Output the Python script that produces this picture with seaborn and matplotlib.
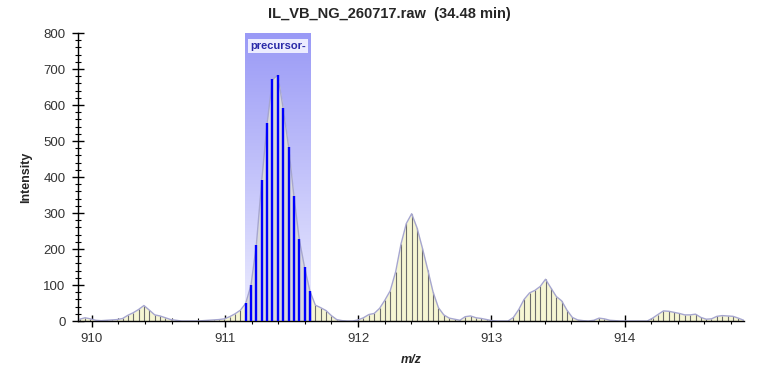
import matplotlib
matplotlib.use("Agg")
import matplotlib.pyplot as plt
import numpy as np
import pandas as pd
import seaborn as sns
from matplotlib.colors import LinearSegmentedColormap
from matplotlib.patches import Rectangle
from matplotlib.ticker import MultipleLocator


# Profile spectrum (m/z, intensity)
mz = [
    909.910, 909.950, 909.990, 910.031, 910.071, 910.111, 910.151, 910.191,
    910.232, 910.272, 910.312, 910.352, 910.392, 910.433, 910.473, 910.513,
    910.553, 910.593, 910.634, 910.674, 910.714, 910.754, 910.794, 910.835,
    910.875, 910.915, 910.955, 910.995, 911.036, 911.076, 911.116, 911.156,
    911.196, 911.236, 911.277, 911.317, 911.357, 911.397, 911.437, 911.478,
    911.518, 911.558, 911.598, 911.638, 911.679, 911.719, 911.759, 911.799,
    911.839, 911.880, 911.920, 911.960, 912.000, 912.040, 912.081, 912.121,
    912.161, 912.201, 912.241, 912.282, 912.322, 912.362, 912.402, 912.442,
    912.483, 912.523, 912.563, 912.603, 912.643, 912.684, 912.724, 912.764,
    912.804, 912.844, 912.885, 912.925, 912.965, 913.005, 913.045, 913.086,
    913.126, 913.166, 913.206, 913.246, 913.287, 913.327, 913.367, 913.407,
    913.447, 913.488, 913.528, 913.568, 913.608, 913.648, 913.689, 913.729,
    913.769, 913.809, 913.849, 913.890, 913.930, 913.970, 914.010, 914.050,
    914.091, 914.131, 914.171, 914.211, 914.251, 914.292, 914.332, 914.372,
    914.412, 914.452, 914.493, 914.533, 914.573, 914.613, 914.653, 914.694,
    914.734, 914.774, 914.814, 914.854, 914.895,
]
intensity = [
    5, 9, 6, 2, 1, 2, 3, 4,
    7, 16, 23, 32, 43, 30, 17, 14,
    9, 4, 2, 0, 0, 0, 0, 1,
    2, 3, 4, 6, 12, 20, 30, 49,
    100, 211, 392, 549, 671, 683, 591, 484,
    347, 227, 149, 83, 44, 37, 29, 15,
    4, 1, 0, 0, 3, 9, 18, 21,
    35, 58, 84, 137, 214, 271, 298, 259,
    202, 142, 80, 37, 17, 8, 5, 2,
    12, 14, 9, 7, 4, 1, 0, 0,
    0, 10, 32, 60, 78, 85, 96, 116,
    92, 68, 56, 30, 10, 3, 1, 0,
    2, 8, 6, 2, 1, 0, 0, 0,
    0, 0, 0, 8, 18, 28, 27, 24,
    21, 17, 17, 19, 10, 5, 6, 13,
    15, 14, 13, 8, 2,
]

precursor_lo, precursor_hi = 911.151, 911.646
title = "IL_VB_NG_260717.raw  (34.48 min)"

sns.set_style("ticks")
plt.rcParams["font.family"] = ["Liberation Sans", "DejaVu Sans"]

df = pd.DataFrame({"mz": mz, "intensity": intensity})
inside = df["mz"].between(precursor_lo, precursor_hi)

fig = plt.figure(figsize=(7.59, 3.68), dpi=100)
ax = fig.add_axes([78 / 759, 1 - 321 / 368, 666.4 / 759, 288 / 368])

# Precursor isolation window, drawn as a vertical gradient
band_cmap = LinearSegmentedColormap.from_list("band", ["#eeeeff", "#9a9af6"])
gradient = np.linspace(0, 1, 256).reshape(-1, 1)
ax.imshow(gradient, extent=[precursor_lo, precursor_hi, 0, 800], origin="lower",
          aspect="auto", cmap=band_cmap, zorder=0)

# Area under the profile: yellow outside the window, grey inside it
ax.fill_between(df["mz"], df["intensity"], color="#f6f6d3", lw=0, zorder=1)
grey_fill = ax.fill_between(df["mz"], df["intensity"], color="#d9d9dc", lw=0, zorder=1.5)
grey_fill.set_clip_path(Rectangle((precursor_lo, 0), precursor_hi - precursor_lo, 800,
                                  transform=ax.transData))

# Profile sticks
ax.vlines(df.loc[~inside, "mz"], 0, df.loc[~inside, "intensity"],
          color="#6c6c6c", lw=0.8, zorder=2)
sns.lineplot(data=df, x="mz", y="intensity", color="#a6a6cf", lw=1.0, ax=ax, zorder=2.5)
ax.vlines(df.loc[inside, "mz"], 0, df.loc[inside, "intensity"],
          color="#0000ff", lw=1.7, zorder=3)

ax.text((precursor_lo + precursor_hi) / 2, 764, "precursor-", ha="center", va="center",
        fontsize=8, fontweight="bold", color="#2a2aa8", zorder=4,
        bbox=dict(boxstyle="square,pad=0.15", fc="#ececff", ec="none"))

# Axes, ticks and labels
ax.set_xlim(909.897, 914.9)
ax.set_ylim(0, 800)
ax.xaxis.set_major_locator(MultipleLocator(1))
ax.xaxis.set_minor_locator(MultipleLocator(0.2))
ax.yaxis.set_major_locator(MultipleLocator(100))
ax.yaxis.set_minor_locator(MultipleLocator(20))
ax.tick_params(which="major", direction="inout", length=8, width=1,
               labelsize=9.5, labelcolor="#333333", color="black", pad=5)
ax.tick_params(which="minor", direction="inout", length=4, width=0.8, color="black")
sns.despine(ax=ax)
for side in ["left", "bottom"]:
    ax.spines[side].set_color("black")
    ax.spines[side].set_linewidth(1)

ax.set_ylabel("Intensity", fontsize=9, fontweight="bold")
ax.set_xlabel("m/z", fontsize=9, fontweight="bold", style="italic")
ax.yaxis.set_label_coords((32 - 78) / 666.4, 0.5)
ax.xaxis.set_label_coords(0.5, (321 - 354) / 288)

fig.text(389 / 759, 1 - 14 / 368, title, ha="center", va="center",
         fontsize=10.5, fontweight="bold")

fig.savefig("out.png", dpi=100)
